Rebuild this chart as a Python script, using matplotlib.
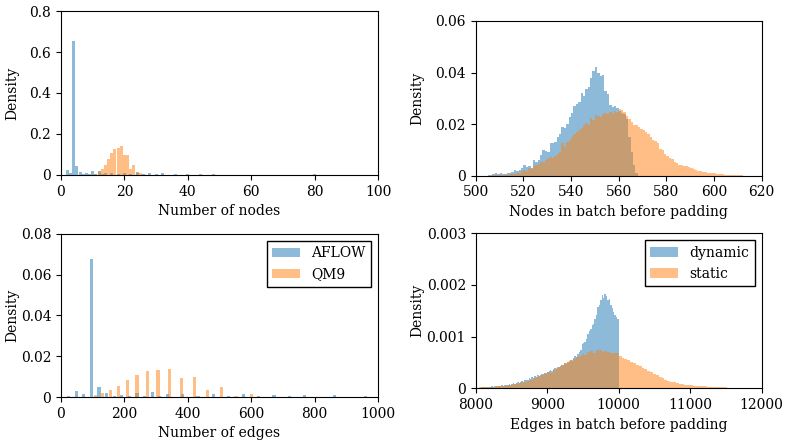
import numpy as np
import matplotlib
matplotlib.use("Agg")
import matplotlib.pyplot as plt
from matplotlib.ticker import FuncFormatter

plt.rcParams['font.family'] = 'serif'
plt.rcParams['font.serif'] = ['DejaVu Serif']
plt.rcParams['font.size'] = 10

# ------------------------------------------------------------
# Number of nodes per graph (density per node count)
# ------------------------------------------------------------
aflow_nodes = [2, 3, 4, 5, 6, 7, 8, 9, 10, 11, 12, 13, 14, 16, 18, 20, 22, 24,
               26, 28, 30, 32, 36, 40, 42, 44, 48, 52, 56, 60, 64, 72, 80]
aflow_nodes_dens = [0.026, 0.010, 0.655, 0.046, 0.016, 0.003, 0.008, 0.004, 0.018,
                    0.006, 0.020, 0.003, 0.008, 0.010, 0.005, 0.009, 0.004, 0.015,
                    0.003, 0.011, 0.004, 0.008, 0.007, 0.006, 0.002, 0.003, 0.004,
                    0.002, 0.002, 0.001, 0.002, 0.001, 0.006]

qm9_nodes = [11, 12, 13, 14, 15, 16, 17, 18, 19, 20, 21, 22, 23, 24, 25]
qm9_nodes_dens = [0.007, 0.013, 0.028, 0.051, 0.078, 0.106, 0.127, 0.134, 0.139,
                  0.097, 0.097, 0.028, 0.048, 0.012, 0.012]

# ------------------------------------------------------------
# Number of edges per graph
# ------------------------------------------------------------
aflow_edges = [24, 48, 72, 96, 120, 144, 168, 192, 216, 240, 264, 288, 312, 336,
               384, 432, 480, 528, 576, 624, 672, 720, 768, 864, 960]
aflow_edges_dens = [0.0007, 0.0030, 0.0013, 0.0678, 0.0051, 0.0019, 0.0004, 0.0011,
                    0.0007, 0.0022, 0.0004, 0.0023, 0.0003, 0.0014, 0.0014, 0.0007,
                    0.0017, 0.0006, 0.0013, 0.0004, 0.0012, 0.0004, 0.0008, 0.0008,
                    0.0007]

qm9_edges = [110, 132, 156, 182, 210, 240, 272, 306, 342, 380, 420, 462, 506, 552, 600]
qm9_edges_dens = [0.0009, 0.0018, 0.0033, 0.0054, 0.0081, 0.0107, 0.0130, 0.0133,
                  0.0137, 0.0094, 0.0099, 0.0034, 0.0048, 0.0005, 0.0013]

# ------------------------------------------------------------
# Nodes in batch before padding (bins of 1 node)
# ------------------------------------------------------------
dyn_nodes_start = 505
dyn_nodes_dens = [
    0.0002, 0.0003, 0.0006, 0.0009, 0.0008, 0.0010, 0.0007, 0.0006, 0.0009, 0.0012,   # 505-514
    0.0016, 0.0022, 0.0020, 0.0024, 0.0030, 0.0040, 0.0034, 0.0036, 0.0030, 0.0060,   # 515-524
    0.0055, 0.0062, 0.0080, 0.0099, 0.0095, 0.0093, 0.0128, 0.0125, 0.0132, 0.0150,   # 525-534
    0.0160, 0.0190, 0.0185, 0.0200, 0.0229, 0.0245, 0.0270, 0.0280, 0.0287, 0.0320,   # 535-544
    0.0310, 0.0335, 0.0345, 0.0380, 0.0405, 0.0420, 0.0400, 0.0388, 0.0392, 0.0330,   # 545-554
    0.0315, 0.0275, 0.0268, 0.0272, 0.0262, 0.0250, 0.0245, 0.0240, 0.0220, 0.0150,   # 555-564
    0.0090, 0.0040, 0.0012]                                                           # 565-567

stat_nodes_start = 507
stat_nodes_dens = [
    0.0001, 0.0001, 0.0002, 0.0002, 0.0003, 0.0004, 0.0003, 0.0005, 0.0006, 0.0008,   # 507-516
    0.0010, 0.0012, 0.0018, 0.0024, 0.0020, 0.0030, 0.0027, 0.0036, 0.0040, 0.0045,   # 517-526
    0.0054, 0.0052, 0.0060, 0.0068, 0.0072, 0.0070, 0.0078, 0.0085, 0.0092, 0.0125,   # 527-536
    0.0112, 0.0130, 0.0140, 0.0152, 0.0160, 0.0168, 0.0176, 0.0185, 0.0195, 0.0205,   # 537-546
    0.0198, 0.0222, 0.0215, 0.0236, 0.0230, 0.0228, 0.0240, 0.0242, 0.0238, 0.0246,   # 547-556
    0.0240, 0.0250, 0.0248, 0.0258, 0.0256, 0.0248, 0.0230, 0.0218, 0.0210, 0.0198,   # 557-566
    0.0195, 0.0190, 0.0182, 0.0176, 0.0168, 0.0160, 0.0150, 0.0140, 0.0134, 0.0125,   # 567-576
    0.0105, 0.0098, 0.0085, 0.0078, 0.0070, 0.0064, 0.0055, 0.0050, 0.0043, 0.0040,   # 577-586
    0.0036, 0.0038, 0.0033, 0.0030, 0.0026, 0.0022, 0.0020, 0.0017, 0.0015, 0.0014,   # 587-596
    0.0012, 0.0011, 0.0010, 0.0009, 0.0008, 0.0006, 0.0005, 0.0004, 0.0003, 0.0003,   # 597-606
    0.0002, 0.0002, 0.0001, 0.0001, 0.0001]                                           # 607-611

# ------------------------------------------------------------
# Edges in batch before padding (density x 1e-3)
# ------------------------------------------------------------
dyn_edges_start, dyn_edges_bin = 8040, 20
dyn_edges_dens_e3 = [
    0.01, 0.01, 0.02,
    0.02, 0.02, 0.03, 0.02, 0.03, 0.03, 0.04, 0.03, 0.04, 0.04,   # 8100
    0.04, 0.05, 0.05, 0.06, 0.05, 0.06, 0.07, 0.06, 0.08, 0.07,   # 8300
    0.09, 0.10, 0.09, 0.11, 0.12, 0.11, 0.13, 0.14, 0.13, 0.16,   # 8500
    0.17, 0.16, 0.19, 0.18, 0.21, 0.20, 0.23, 0.22, 0.25, 0.24,   # 8700
    0.26, 0.28, 0.27, 0.30, 0.29, 0.32, 0.33, 0.35, 0.34, 0.38,   # 8900
    0.40, 0.38, 0.42, 0.41, 0.44, 0.46, 0.45, 0.48, 0.47, 0.50,   # 9100
    0.52, 0.55, 0.53, 0.58, 0.62, 0.60, 0.66, 0.70, 0.74, 0.85,   # 9300
    0.88, 0.90, 0.95, 1.05, 1.10, 1.15, 1.22, 1.25, 1.35, 1.42,   # 9500
    1.58, 1.62, 1.70, 1.80, 1.75, 1.82, 1.78, 1.70, 1.72, 1.62,   # 9700
    1.55, 1.48, 1.42, 1.38, 1.35]                                 # 9900

stat_edges_start, stat_edges_bin = 8040, 40
stat_edges_dens_e3 = [
    0.02, 0.02, 0.02, 0.03, 0.03, 0.03, 0.04, 0.04, 0.05,   # 8040
    0.05, 0.06, 0.06, 0.08, 0.09, 0.10, 0.12, 0.13, 0.15,   # 8400
    0.17, 0.19, 0.21, 0.24, 0.26, 0.28, 0.32, 0.30, 0.36,   # 8760
    0.40, 0.42, 0.45, 0.48, 0.50, 0.54, 0.56, 0.60, 0.62,   # 9120
    0.66, 0.64, 0.70, 0.72, 0.68, 0.75, 0.74, 0.70, 0.73,   # 9480
    0.70, 0.69, 0.68, 0.68, 0.62, 0.58, 0.56, 0.54, 0.50,   # 9840
    0.48, 0.46, 0.44, 0.40, 0.37, 0.34, 0.31, 0.28, 0.25,   # 10200
    0.22, 0.19, 0.17, 0.15, 0.13, 0.12, 0.10, 0.09, 0.08,   # 10560
    0.07, 0.06, 0.06, 0.05, 0.05, 0.04, 0.04, 0.04, 0.03,   # 10920
    0.03, 0.03, 0.02, 0.02, 0.02, 0.02, 0.01, 0.01, 0.00]   # 11280


def fmt(v, pos):
    return '%g' % v


fig = plt.figure(figsize=(7.89, 4.42), dpi=100)
ax_tl = fig.add_axes([0.0773, 0.6041, 0.4018, 0.3710])
ax_tr = fig.add_axes([0.6029, 0.6025, 0.3625, 0.3500])
ax_bl = fig.add_axes([0.0773, 0.1018, 0.4018, 0.3688])
ax_br = fig.add_axes([0.6029, 0.1215, 0.3625, 0.3507])

kw_a = dict(color='C0', alpha=0.5, linewidth=0)
kw_b = dict(color='C1', alpha=0.5, linewidth=0)

# top left
ax_tl.bar(aflow_nodes, aflow_nodes_dens, width=0.95, **kw_a)
ax_tl.bar(qm9_nodes, qm9_nodes_dens, width=0.95, **kw_b)
ax_tl.set_xlim(0, 100)
ax_tl.set_ylim(0, 0.8)
ax_tl.set_yticks([0, 0.2, 0.4, 0.6, 0.8])
ax_tl.set_xlabel("Number of nodes")

# bottom left
ax_bl.bar(aflow_edges, aflow_edges_dens, width=10, label="AFLOW", **kw_a)
ax_bl.bar(qm9_edges, qm9_edges_dens, width=10, label="QM9", **kw_b)
ax_bl.set_xlim(0, 1000)
ax_bl.set_ylim(0, 0.08)
ax_bl.set_yticks([0, 0.02, 0.04, 0.06, 0.08])
ax_bl.set_xlabel("Number of edges")
ax_bl.legend(loc='upper right', fancybox=False, edgecolor='k', framealpha=1)

# top right
x_dyn = dyn_nodes_start + np.arange(len(dyn_nodes_dens))
x_stat = stat_nodes_start + np.arange(len(stat_nodes_dens))
ax_tr.bar(x_dyn, dyn_nodes_dens, width=1, align='edge', **kw_a)
ax_tr.bar(x_stat, stat_nodes_dens, width=1, align='edge', **kw_b)
ax_tr.set_xlim(500, 620)
ax_tr.set_ylim(0, 0.06)
ax_tr.set_yticks([0, 0.02, 0.04, 0.06])
ax_tr.set_xlabel("Nodes in batch before padding")

# bottom right
xe_dyn = dyn_edges_start + dyn_edges_bin * np.arange(len(dyn_edges_dens_e3))
xe_stat = stat_edges_start + stat_edges_bin * np.arange(len(stat_edges_dens_e3))
ax_br.bar(xe_dyn, np.array(dyn_edges_dens_e3) * 1e-3, width=dyn_edges_bin,
          align='edge', label="dynamic", **kw_a)
ax_br.bar(xe_stat, np.array(stat_edges_dens_e3) * 1e-3, width=stat_edges_bin,
          align='edge', label="static", **kw_b)
ax_br.set_xlim(8000, 12000)
ax_br.set_ylim(0, 0.003)
ax_br.set_yticks([0, 0.001, 0.002, 0.003])
ax_br.set_xlabel("Edges in batch before padding")
ax_br.legend(loc='upper right', fancybox=False, edgecolor='k', framealpha=1)

for ax in (ax_tl, ax_tr, ax_bl, ax_br):
    ax.set_ylabel("Density")
    ax.yaxis.set_major_formatter(FuncFormatter(fmt))

# y labels line up per column, as in the original layout
ax_tl.yaxis.set_label_coords(-0.133, 0.5)
ax_bl.yaxis.set_label_coords(-0.133, 0.5)
ax_tr.yaxis.set_label_coords(-0.181, 0.5)
ax_br.yaxis.set_label_coords(-0.181, 0.5)

fig.savefig("out.png", dpi=100)
